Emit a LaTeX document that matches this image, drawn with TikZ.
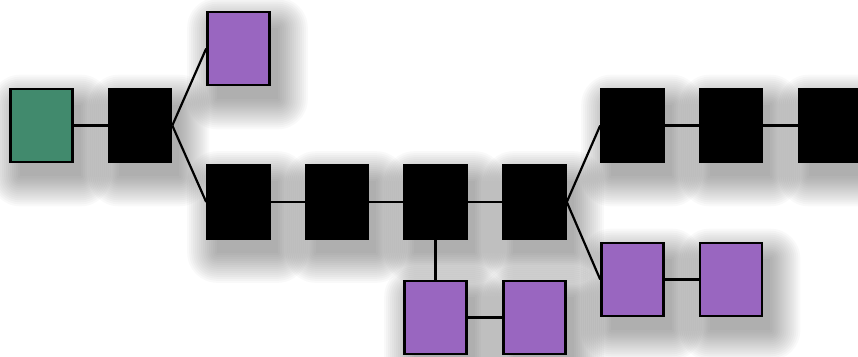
\documentclass[tikz,border=0pt]{standalone}
\definecolor{blockgreen}{RGB}{65,138,109}
\definecolor{blockpurple}{RGB}{153,102,192}
\pgfdeclarelayer{shadow}
\pgfsetlayers{shadow,main}
\tikzset{
  block/.style={draw=black, line width=2.6pt, fill=black, inner sep=0pt,
    minimum width=62pt, minimum height=73pt},
  main/.style={block, fill=black},
  orphan/.style={block, fill=blockpurple},
  genesis/.style={block, fill=blockgreen},
  link/.style={line width=2.2pt, draw=black},
  shadowlayer/.style={fill=black, fill opacity=0.024}
}
\begin{document}
\begin{tikzpicture}[x=1pt, y=-1pt]
  \useasboundingbox (0,0) rectangle (858,356);
  \clip (0,0) rectangle (858,356);
  % chain of blocks
  \node[genesis] (g)  at (41.5,125.5) {};
  \node[main]    (b1) at (140,125.5) {};
  \node[orphan]  (o1) at (238.5,48.5) {};
  \node[main]    (b2) at (238.5,202) {};
  \node[main]    (b3) at (337,202) {};
  \node[main]    (b4) at (435.5,202) {};
  \node[main]    (b5) at (534.5,202) {};
  \node[main]    (b6) at (632.5,125.5) {};
  \node[main]    (b7) at (731,125.5) {};
  \node[main]    (b8) at (830,125.5) {};
  \node[orphan]  (o2) at (632.5,279.5) {};
  \node[orphan]  (o3) at (731,279.5) {};
  \node[orphan]  (o4) at (435.5,317.5) {};
  \node[orphan]  (o5) at (534.5,317.5) {};
  % links between blocks
  \draw[link] (g.east) -- (b1.west);
  \draw[link] (b1.east) -- (o1.west);
  \draw[link] (b1.east) -- (b2.west);
  \draw[link] (b2.east) -- (b3.west);
  \draw[link] (b3.east) -- (b4.west);
  \draw[link] (b4.east) -- (b5.west);
  \draw[link] (b5.east) -- (b6.west);
  \draw[link] (b6.east) -- (b7.west);
  \draw[link] (b7.east) -- (b8.west);
  \draw[link] (b5.east) -- (o2.west);
  \draw[link] (o2.east) -- (o3.west);
  \draw[link] (b4.south) -- (o4.north);
  \draw[link] (o4.east) -- (o5.west);
  % soft drop shadows under every block
  \begin{pgfonlayer}{shadow}
    \foreach \n in {g,b1,o1,b2,b3,b4,b5,b6,b7,b8,o2,o3,o4,o5}{
      \foreach \r in {-2,0,...,28}{
        \fill[shadowlayer, rounded corners=\r pt+2pt]
          ([shift={(9-\r,15-\r)}]\n.north west) rectangle
          ([shift={(9+\r,15+\r)}]\n.south east);
      }
    }
  \end{pgfonlayer}
\end{tikzpicture}
\end{document}
